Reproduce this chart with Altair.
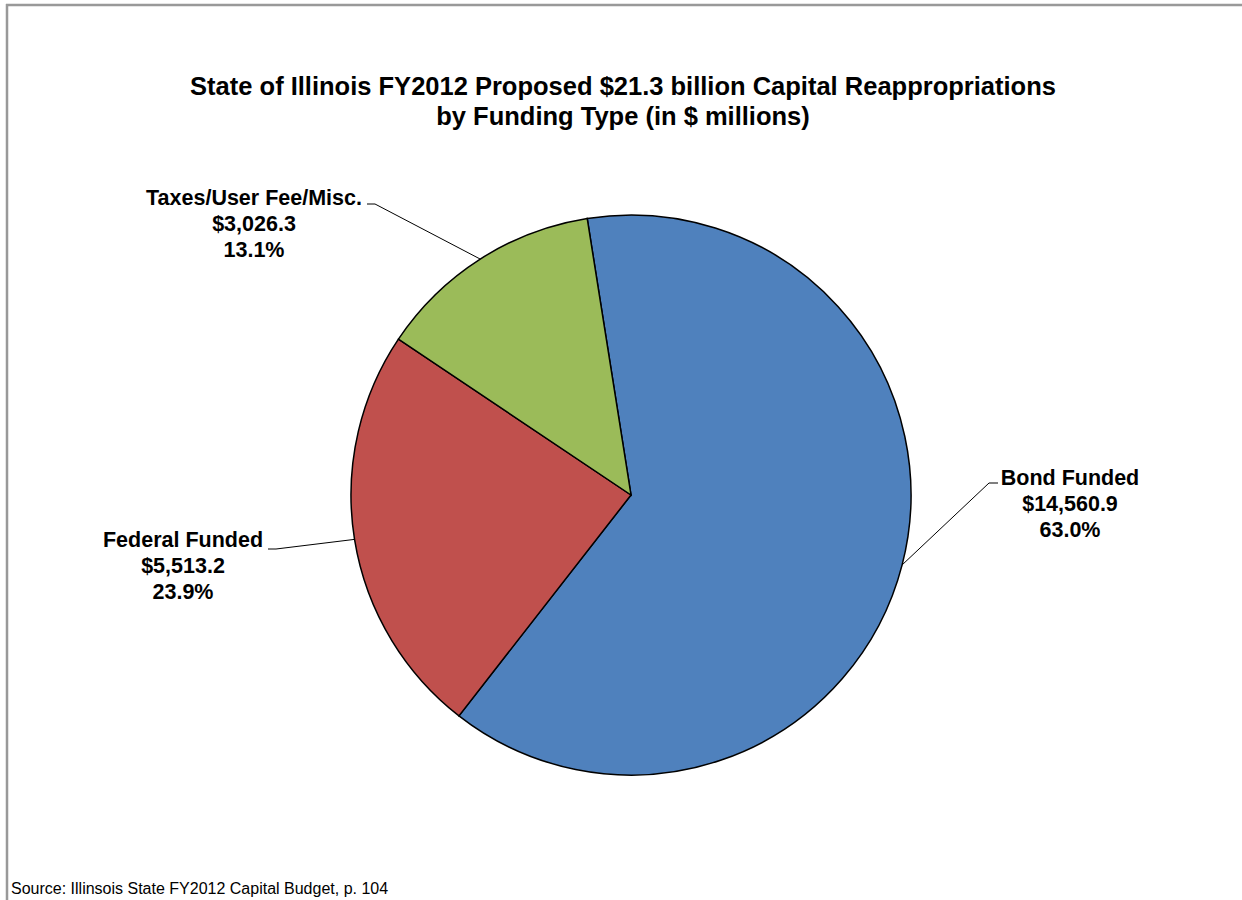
import math
import altair as alt
import pandas as pd

# ---- data ----
categories = ["Bond Funded", "Federal Funded", "Taxes/User Fee/Misc."]
values = [14560.9, 5513.2, 3026.3]
colors = ["#4F81BD", "#C0504D", "#9BBB59"]

title_lines = ["State of Illinois FY2012 Proposed $21.3 billion Capital Reappropriations",
               "by Funding Type (in $ millions)"]
source_text = "Source: Illinsois State FY2012 Capital Budget, p. 104"

# ---- layout (positions, not data) ----
W, H = 1242, 900
CX, CY, R = 631, 495, 280
START_DEG = -9.0
label_xy = [(1070, 485), (183, 547), (254, 205)]        # text block centre x, first baseline
elbow_xy = [(989, 483), (276, 549), (375, 204)]        # leader-line elbow
tail_xy = [(998, 483), (268, 549), (367, 204)]         # short horizontal end

total = sum(values)
start = math.radians(START_DEG)

rows = []
cum = 0.0
for i, (c, v) in enumerate(zip(categories, values)):
    mid = start + 2 * math.pi * (cum + v / 2) / total
    cum += v
    pct = 100 * v / total
    rows.append({
        "cat": c, "val": v, "idx": i,
        "label": f"{c}\n${v:,.1f}\n{pct:.1f}%",
        "ex": CX + R * math.sin(mid), "ey": CY - R * math.cos(mid),
        "bx": elbow_xy[i][0], "by": elbow_xy[i][1],
        "tx": tail_xy[i][0], "ty": tail_xy[i][1],
        "lx": label_xy[i][0], "ly": label_xy[i][1],
    })
df = pd.DataFrame(rows)

xs = alt.Scale(domain=[0, W], range=[0, W])
ys = alt.Scale(domain=[0, H], range=[0, H])

pie = alt.Chart(df).mark_arc(stroke="black", strokeWidth=1.5, outerRadius=R).encode(
    theta=alt.Theta("val:Q", stack=True,
                    scale=alt.Scale(range=[start, start + 2 * math.pi])),
    color=alt.Color("cat:N", scale=alt.Scale(domain=categories, range=colors), legend=None),
    order=alt.Order("idx:Q"),
    x=alt.value(CX), y=alt.value(CY),
)

leader = alt.Chart(df).mark_rule(color="black", strokeWidth=1).encode(
    x=alt.X("bx:Q", scale=xs, axis=None), y=alt.Y("by:Q", scale=ys, axis=None),
    x2="ex:Q", y2="ey:Q",
)
tail = alt.Chart(df).mark_rule(color="black", strokeWidth=1).encode(
    x=alt.X("bx:Q", scale=xs, axis=None), y=alt.Y("by:Q", scale=ys, axis=None),
    x2="tx:Q", y2="ty:Q",
)

labels = alt.Chart(df).mark_text(
    font="Liberation Sans", fontWeight="bold", fontSize=21.5, align="center",
    baseline="alphabetic", lineBreak="\n", lineHeight=26, color="black",
).encode(
    x=alt.X("lx:Q", scale=xs, axis=None), y=alt.Y("ly:Q", scale=ys, axis=None),
    text="label:N",
)

title_df = pd.DataFrame({"t": ["\n".join(title_lines)]})
title = alt.Chart(title_df).mark_text(
    font="Liberation Sans", fontWeight="bold", fontSize=25.5, align="center",
    baseline="alphabetic", lineBreak="\n", lineHeight=30, color="black",
).encode(x=alt.value(623), y=alt.value(95), text="t:N")

source_df = pd.DataFrame({"t": [source_text]})
source = alt.Chart(source_df).mark_text(
    font="Liberation Sans", fontSize=16, align="left", baseline="alphabetic", color="black",
).encode(x=alt.value(11), y=alt.value(894), text="t:N")

border_top = alt.Chart(source_df).mark_rule(color="#999999", strokeWidth=2.5).encode(
    x=alt.value(6), x2=alt.value(W), y=alt.value(5))
border_left = alt.Chart(source_df).mark_rule(color="#999999", strokeWidth=2.5).encode(
    x=alt.value(7), y=alt.value(4), y2=alt.value(H))

chart = alt.layer(pie, leader, tail, labels, title, source, border_top, border_left).properties(
    width=W, height=H, padding=0, autosize=alt.AutoSizeParams(type="none"),
    background="white",
).configure_view(stroke=None)

chart.save("out.html", embed_options={"renderer": "svg", "actions": False})
